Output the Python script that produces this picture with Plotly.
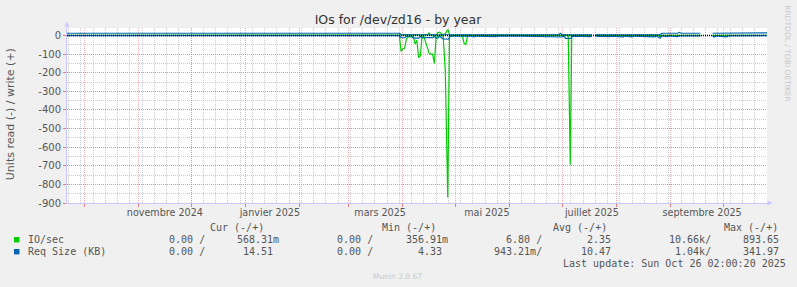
import plotly.graph_objects as go

# ---------------- data ----------------
x_start = "2024-09-21 02:00"
x_end = "2025-10-26 02:00"

month_starts = ["2024-10-01", "2024-11-01", "2024-12-01", "2025-01-01", "2025-02-01",
                "2025-03-01", "2025-04-01", "2025-05-01", "2025-06-01", "2025-07-01",
                "2025-08-01", "2025-09-01", "2025-10-01"]
label_dates = ["2024-11-16", "2025-01-15", "2025-03-19", "2025-05-19", "2025-07-18", "2025-09-19"]
label_text = ["novembre 2024", "janvier 2025", "mars 2025", "mai 2025", "juillet 2025", "septembre 2025"]
y_ticks = [-900, -800, -700, -600, -500, -400, -300, -200, -100, 0]

# IO/sec read (plotted negative)
io_read = [("2024-09-21 02:00", 0), ("2025-03-30", 0), ("2025-03-31", -85), ("2025-04-01", -72),
           ("2025-04-02", -68), ("2025-04-03", -20), ("2025-04-04", -6), ("2025-04-06", -8),
           ("2025-04-07", -4), ("2025-04-08", -45), ("2025-04-09", -25), ("2025-04-10", -118),
           ("2025-04-11", -110), ("2025-04-12", -2), ("2025-04-13", -5), ("2025-04-14", -35),
           ("2025-04-15", -60), ("2025-04-16", -95), ("2025-04-17", -100), ("2025-04-18", -100),
           ("2025-04-19", -150), ("2025-04-20", -10), ("2025-04-21", -3), ("2025-04-24", 0),
           ("2025-04-25 06:00", -190), ("2025-04-26 16:00", -870), ("2025-04-27 16:00", -4),
           ("2025-04-28 12:00", 0),
           ("2025-05-05", 0), ("2025-05-06", -42), ("2025-05-07", -48), ("2025-05-08", 0),
           ("2025-07-04 12:00", 0), ("2025-07-05 16:00", -695), ("2025-07-06 12:00", -3),
           ("2025-07-07", 0),
           ("2025-07-18", 0), ("2025-07-19", None), ("2025-07-20", 0), ("2025-08-09", 0),
           ("2025-08-10", -6), ("2025-08-11", 0), ("2025-08-25", 0), ("2025-08-26", -6),
           ("2025-08-27", 0), ("2025-09-18", 0), ("2025-09-19", None), ("2025-09-25", 0),
           ("2025-10-26 02:00", 0)]

# IO/sec write (positive)
io_write = [("2024-09-21 02:00", 0.5), ("2025-04-14", 0.5), ("2025-04-15", 3), ("2025-04-16", 14),
            ("2025-04-17", 2), ("2025-04-20", 1), ("2025-04-21", 15), ("2025-04-22", 18),
            ("2025-04-23", 12), ("2025-04-24", 3), ("2025-04-25", 8), ("2025-04-26 18:00", 32),
            ("2025-04-27 18:00", 2), ("2025-04-28", 0.5), ("2025-07-18", 0.5), ("2025-07-19", None),
            ("2025-07-20", 0.5), ("2025-09-18", 0.5), ("2025-09-19", None), ("2025-09-25", 0.5),
            ("2025-10-26 02:00", 0.57)]

# Req Size read (plotted negative)
req_read = [("2024-09-21 02:00", -1), ("2024-10-08", -1), ("2024-10-09", -5), ("2024-10-12", -5),
            ("2024-10-13", -1), ("2024-10-14", -5), ("2024-10-16", -5), ("2024-10-17", -1),
            ("2024-10-21", -1), ("2024-10-22", -5), ("2024-10-28", -5), ("2024-10-29", -1),
            ("2024-10-31", -1), ("2024-11-01", -5), ("2024-11-02", -1), ("2025-01-06", -1),
            ("2025-01-07", -5), ("2025-01-12", -5), ("2025-01-13", -1), ("2025-01-19", -1),
            ("2025-01-20", -5), ("2025-01-23", -5), ("2025-01-24", -1), ("2025-03-04", -1),
            ("2025-03-05", -5), ("2025-03-06", -1), ("2025-03-30", -1), ("2025-03-31", -12),
            ("2025-04-02", -12), ("2025-04-03", -4), ("2025-04-06", -4), ("2025-04-07", -14),
            ("2025-04-10", -14), ("2025-04-11", -4), ("2025-04-12", -11), ("2025-04-18", -11),
            ("2025-04-19", -4), ("2025-04-20", -14), ("2025-04-21", -14), ("2025-04-22", -4),
            ("2025-04-24", -18), ("2025-04-27", -20), ("2025-04-28", -4), ("2025-05-10", -4),
            ("2025-05-11", -7), ("2025-05-12", -7), ("2025-05-13", -3), ("2025-05-20", -6),
            ("2025-05-21", -3), ("2025-05-24", -6), ("2025-05-25", -3), ("2025-06-06", -6),
            ("2025-06-07", -6), ("2025-06-08", -3), ("2025-07-01", -8), ("2025-07-02", -3),
            ("2025-07-03", -15), ("2025-07-06", -15), ("2025-07-07", -3), ("2025-07-15", -6),
            ("2025-07-17", -6), ("2025-07-18", -3), ("2025-07-19", None), ("2025-07-20", -3),
            ("2025-07-25", -6), ("2025-07-26", -3), ("2025-07-28", -6), ("2025-07-29", -3),
            ("2025-08-01", -6), ("2025-08-02", -3), ("2025-08-03", -7), ("2025-08-05", -7),
            ("2025-08-06", -3), ("2025-08-10", -7), ("2025-08-11", -3), ("2025-08-17", -6),
            ("2025-08-18", -3), ("2025-08-20", -7), ("2025-08-23", -7), ("2025-08-24", -3),
            ("2025-08-26", -15), ("2025-08-27", -2), ("2025-08-30", -6), ("2025-08-31", -2),
            ("2025-09-05", -6), ("2025-09-06", -2), ("2025-09-18", -2), ("2025-09-19", None),
            ("2025-09-25", -2), ("2025-09-26", -8), ("2025-09-27", -2), ("2025-10-03", -7),
            ("2025-10-04", -2), ("2025-10-26 02:00", -1)]

# Req Size write (positive)
req_write = [("2024-09-21 02:00", 12), ("2025-01-13", 12), ("2025-01-14", 16), ("2025-01-15", 12),
             ("2025-03-30", 12), ("2025-03-31", 5), ("2025-04-01", 4), ("2025-06-29", 4),
             ("2025-06-30", 12), ("2025-07-01", 4), ("2025-07-18", 4), ("2025-07-19", None),
             ("2025-07-20", 4), ("2025-08-26", 4), ("2025-08-27", 12), ("2025-09-05", 12),
             ("2025-09-06", 17), ("2025-09-07", 12), ("2025-09-18", 12), ("2025-09-19", None),
             ("2025-09-25", 12), ("2025-10-04", 12), ("2025-10-05", 16), ("2025-10-06", 12),
             ("2025-10-17", 12), ("2025-10-18", 16), ("2025-10-19", 12), ("2025-10-26 02:00", 14.5)]

# legend table values
series_names = ["IO/sec", "Req Size (KB)"]
series_colors = ["#00CC00", "#0066B3"]
cur_read = ["0.00", "0.00"]
cur_write = ["568.31m", "14.51"]
min_read = ["0.00", "0.00"]
min_write = ["356.91m", "4.33"]
avg_read = ["6.80", "943.21m"]
avg_write = ["2.35", "10.47"]
max_read = ["10.66k", "1.04k"]
max_write = ["893.65", "341.97"]
col_headers = ["Cur (-/+)", "Min (-/+)", "Avg (-/+)", "Max (-/+)"]
last_update = "Last update: Sun Oct 26 02:00:20 2025"

# ---------------- layout helpers ----------------
W, H = 797, 287
L, R, T, B = 67, 30, 28, 84
PW, PH = W - L - R, H - T - B


def px(x):
    return (x - L) / PW


def py(y):
    return (H - B - y) / PH


MONO = "DejaVu Sans Mono"
SANS = "DejaVu Sans"
TXT = "#555555"
MAJOR = "rgba(230,110,110,0.55)"
MINOR = "rgba(170,170,170,0.6)"
AXIS = "#C8C8FF"
NB = "\u00a0"


def field(s, sep):
    if s[-1].isalpha():
        num, suf = s[:-1], s[-1]
    else:
        num, suf = s, " "
    return (num.rjust(6) + suf + sep).replace(" ", NB)


fig = go.Figure()
for data, color, name in [(io_read, "#00CC00", "io_r"), (io_write, "#00CC00", "io_w"),
                          (req_read, "#0066B3", "rq_r"), (req_write, "#0066B3", "rq_w")]:
    fig.add_trace(go.Scatter(x=[d for d, v in data], y=[v for d, v in data], mode="lines",
                             line=dict(color=color, width=1.2), showlegend=False,
                             connectgaps=False, name=name, hoverinfo="skip"))

# overlay axis only used for month grid lines
fig.add_trace(go.Scatter(x=[x_start, x_end], y=[None, None], xaxis="x2", mode="lines",
                         showlegend=False, hoverinfo="skip"))

fig.update_layout(
    width=W, height=H, margin=dict(l=L, r=R, t=T, b=B, pad=0),
    paper_bgcolor="#F0F0F0", plot_bgcolor="#FFFFFF",
    showlegend=False,
    title=dict(text="IOs for /dev/zd16 - by year", x=398 / W, xanchor="center",
               y=1 - 19.5 / H, yanchor="middle", font=dict(family=SANS, size=12.5, color="#333333")),
    xaxis=dict(type="date", range=[x_start, x_end], tickmode="array", tickvals=label_dates,
               ticktext=label_text, showgrid=False, ticks="", zeroline=False,
               showline=True, linecolor=AXIS, linewidth=1,
               tickfont=dict(family=SANS, size=9.6, color=TXT),
               minor=dict(tick0="2024-10-06", dtick=7 * 86400000, showgrid=True,
                          gridcolor=MINOR, griddash="1px,1px", gridwidth=1)),
    xaxis2=dict(type="date", range=[x_start, x_end], overlaying="x", anchor="y", side="bottom",
                tickmode="array", tickvals=month_starts, ticktext=[""] * len(month_starts),
                showgrid=True, gridcolor=MAJOR, griddash="1px,1px", gridwidth=1,
                ticks="outside", ticklen=3, tickcolor="rgba(230,110,110,0.9)",
                showline=False, zeroline=False),
    yaxis=dict(range=[-900, 40.3], tickmode="array", tickvals=y_ticks,
               ticktext=[str(v) for v in y_ticks], showgrid=True, gridcolor=MAJOR,
               griddash="1px,1px", gridwidth=1, zeroline=False,
               ticks="outside", ticklen=3, tickcolor="rgba(230,110,110,0.9)",
               showline=True, linecolor=AXIS, linewidth=1,
               tickfont=dict(family=SANS, size=10, color=TXT),
               minor=dict(tick0=0, dtick=50, showgrid=True, gridcolor=MINOR,
                          griddash="1px,1px", gridwidth=1)),
)

# zero line
fig.add_hline(y=0, line=dict(color="black", width=1.3, dash="1px,1px"), layer="above")

shapes = []
# axis arrows
shapes.append(dict(type="path", xref="paper", yref="paper",
                   path=f"M {px(64.5)} {py(26.5)} L {px(67)} {py(21.5)} L {px(69.5)} {py(26.5)} Z",
                   fillcolor=AXIS, line=dict(width=0)))
shapes.append(dict(type="path", xref="paper", yref="paper",
                   path=f"M {px(767.5)} {py(200.5)} L {px(773)} {py(203)} L {px(767.5)} {py(205.5)} Z",
                   fillcolor=AXIS, line=dict(width=0)))
shapes.append(dict(type="line", xref="paper", yref="paper", x0=px(67), x1=px(67),
                   y0=py(28), y1=py(26), line=dict(color=AXIS, width=1)))
shapes.append(dict(type="line", xref="paper", yref="paper", x0=px(767), x1=px(768),
                   y0=py(203), y1=py(203), line=dict(color=AXIS, width=1)))

row_y = [239.7, 251.7]
# legend swatches
for i, c in enumerate(series_colors):
    shapes.append(dict(type="rect", xref="paper", yref="paper", x0=px(14), x1=px(19.5),
                       y0=py(row_y[i] + 2.7), y1=py(row_y[i] - 2.7), fillcolor=c, line=dict(width=0)))
fig.update_layout(shapes=list(fig.layout.shapes) + shapes)

ann = []


def text(x, y, s, font=MONO, size=10, color=TXT, anchor="left", angle=0):
    ann.append(dict(x=px(x), y=py(y), xref="paper", yref="paper", text=s, showarrow=False,
                    xanchor=anchor, yanchor="middle", borderpad=0, textangle=angle,
                    font=dict(family=font, size=size, color=color)))


# y-axis title
text(10.5, 114.7, "Units read (-) / write (+)", font=SANS, size=11, anchor="center", angle=-90)

header_x = [209.3, 381, 552.3, 722.7]
for hx, h in zip(header_x, col_headers):
    text(hx, 227.3, h.replace(" ", NB))

field_x = [156.3, 236, 324, 405, 493, 574, 662.3, 741.7]
for i, name in enumerate(series_names):
    text(26.7, row_y[i], name.replace(" ", NB))
    vals = [field(cur_read[i], "/"), field(cur_write[i], ""),
            field(min_read[i], "/"), field(min_write[i], ""),
            field(avg_read[i], "/"), field(avg_write[i], ""),
            field(max_read[i], "/"), field(max_write[i], "")]
    for fx, v in zip(field_x, vals):
        text(fx, row_y[i], v)

text(561.7, 263.3, last_update.replace(" ", NB))
text(397.7, 276, "Munin 2.0.67", font=SANS, size=7.5, color="#C8C8C8", anchor="center")
text(787.3, 53.5, "RRDTOOL / TOBI OETIKER", font=SANS, size=7.5, color="#C8C8C8",
     anchor="center", angle=90)

fig.update_layout(annotations=ann)
fig.write_html("out.html")
